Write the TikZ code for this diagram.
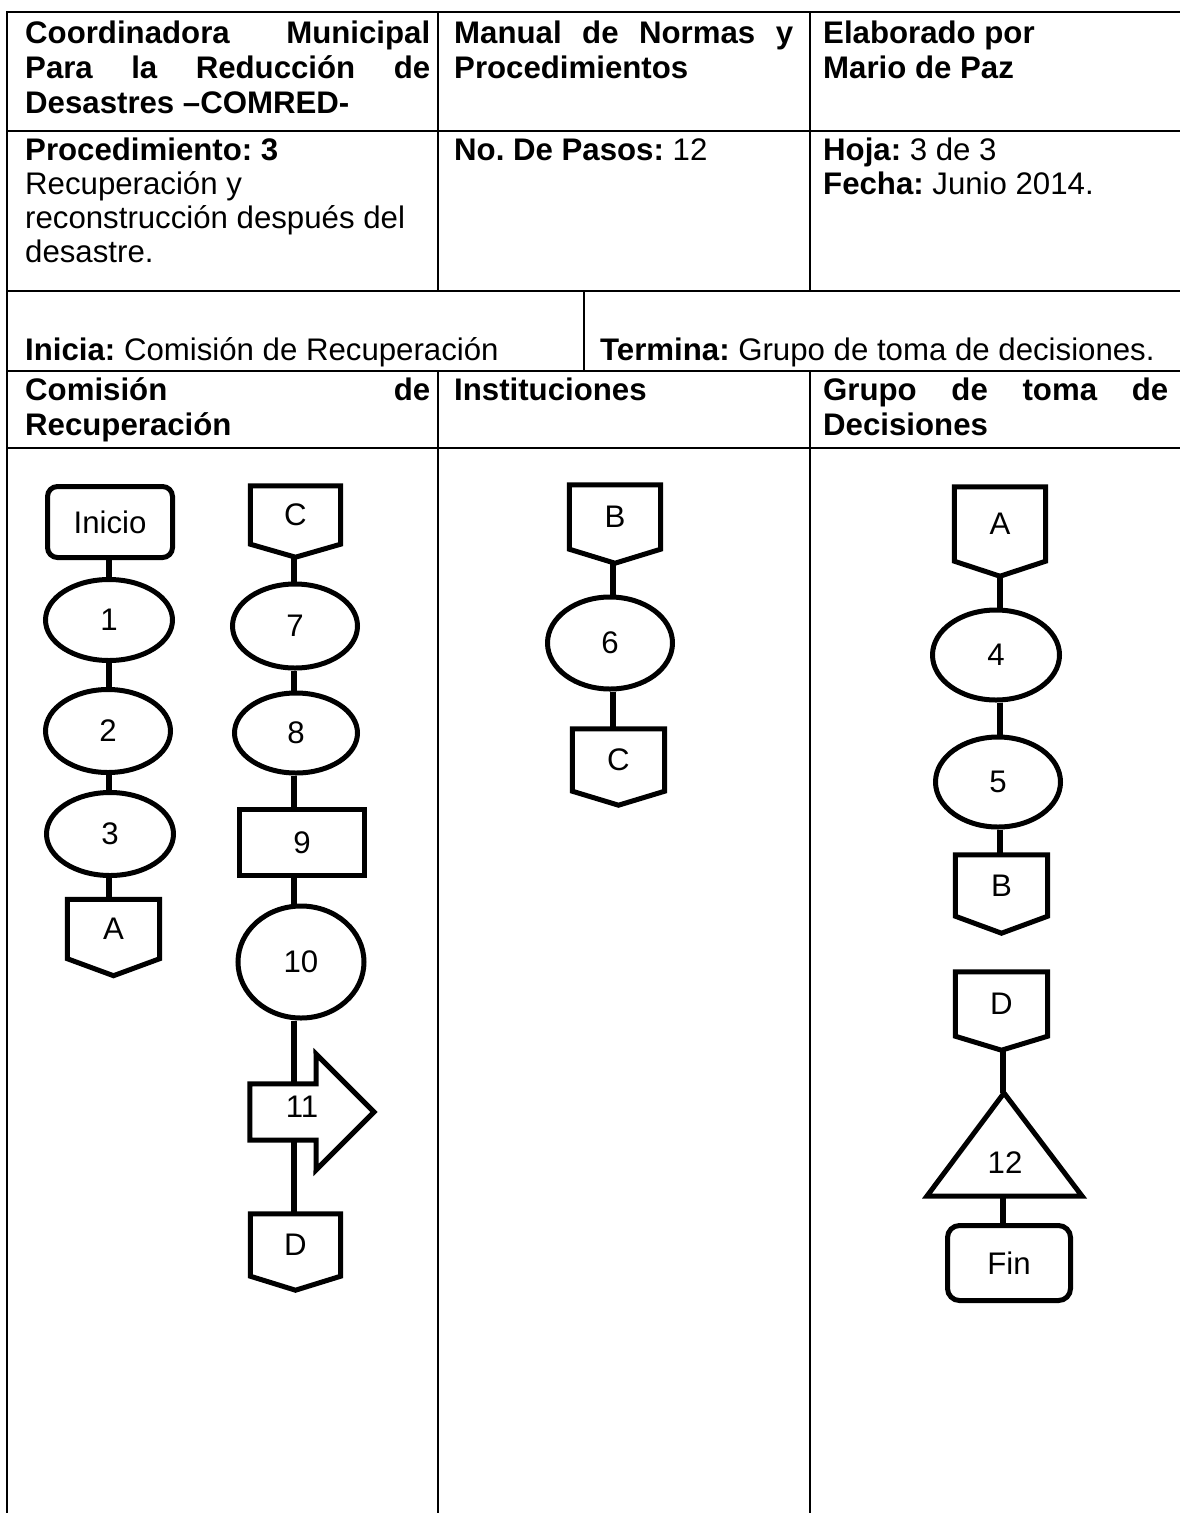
\documentclass[tikz,border=0pt]{standalone}
\usepackage{fontspec}
\setmainfont{Liberation Sans}
\usetikzlibrary{shapes.geometric,calc,backgrounds}
\frenchspacing
\begin{document}
\begin{tikzpicture}[x=1pt,y=-1pt,
  tbl/.style={line width=2.4pt, line cap=rect},
  fnt/.style={font=\fontsize{31.2}{35}\selectfont},
  ell/.style={draw, line width=5pt, ellipse, inner sep=0pt, fill=white, fnt},
  sbox/.style={draw, line width=5pt, rectangle, inner sep=0pt, fill=white, fnt},
  opg/.style={rectangle, inner sep=0pt, fnt},
  opgline/.style={line width=5pt, line join=miter},
  conn/.style={line width=5.5pt},
  txt/.style={anchor=base west, inner sep=0pt, fnt},
  lbl/.style={inner sep=0pt, fnt},
]
\useasboundingbox (0,0) rectangle (1179,1513);

% ---------- table ----------
\draw[tbl] (7,12) -- (1179,12);
\draw[tbl] (7,131) -- (1179,131);
\draw[tbl] (7,291) -- (1179,291);
\draw[tbl] (7,371) -- (1179,371);
\draw[tbl] (7,448) -- (1179,448);
\draw[tbl] (7,12) -- (7,1513);
\draw[tbl] (438,12) -- (438,291);
\draw[tbl] (438,371) -- (438,1513);
\draw[tbl] (810,12) -- (810,291);
\draw[tbl] (810,371) -- (810,1513);
\draw[tbl] (584,291) -- (584,371);

% ---------- header texts ----------
\node[txt] (h1a) at (25,43) {\bfseries\makebox[405pt][s]{Coordinadora Municipal}};
\node[txt] (h1b) at (25,78) {\bfseries\makebox[405pt][s]{Para la Reducción de}};
\node[txt] (h1c) at (25,113) {\bfseries Desastres –COMRED-};
\node[txt] (h2a) at (454,43) {\bfseries\makebox[339pt][s]{Manual de Normas y}};
\node[txt] (h2b) at (454,78) {\bfseries Procedimientos};
\node[txt] (h3a) at (823,43) {\bfseries Elaborado por};
\node[txt] (h3b) at (823,78) {\bfseries Mario de Paz};

\node[txt] (p1) at (25,160) {\bfseries Procedimiento: 3};
\node[txt] (p2) at (25,194) {Recuperación y};
\node[txt] (p3) at (25,228) {reconstrucción después del};
\node[txt] (p4) at (25,262) {desastre.};
\node[txt] (np) at (454,160) {\textbf{No. De Pasos:} 12};
\node[txt] (hj) at (823,160) {\textbf{Hoja:} 3 de 3};
\node[txt] (fc) at (823,194) {\textbf{Fecha:} Junio 2014.};

\node[txt] (ini0) at (25,360) {\textbf{Inicia:} Comisión de Recuperación};
\node[txt] (ter0) at (600,360) {\textbf{Termina:} Grupo de toma de decisiones.};

\node[txt] (c1a) at (25,400) {\bfseries\makebox[405pt][s]{Comisión de}};
\node[txt] (c1b) at (25,435) {\bfseries Recuperación};
\node[txt] (c2a) at (454,400) {\bfseries Instituciones};
\node[txt] (c3a) at (823,400) {\bfseries\makebox[345pt][s]{Grupo de toma de}};
\node[txt] (c3b) at (823,435) {\bfseries Decisiones};

% ---------- column 1 ----------
\node[sbox, rounded corners=10pt, minimum width=125pt, minimum height=71pt] (ini) at (110,522) {Inicio};
\node[ell, minimum width=127pt, minimum height=81pt] (E1) at (109,620) {1};
\node[ell, minimum width=125pt, minimum height=83pt] (E2) at (108,731) {2};
\node[ell, minimum width=127pt, minimum height=83pt] (E3) at (110,834) {3};
\node[opg, minimum width=92pt, minimum height=59pt] (A1) at (113.5,929) {A};
\coordinate (A1t) at ($(A1.south)+(0,17)$);
\draw[opgline] (A1.north west) -- (A1.north east) -- (A1.south east) -- (A1t) -- (A1.south west) -- cycle;

% ---------- column 2 ----------
\node[opg, minimum width=90pt, minimum height=58pt] (C1) at (295.5,515) {C};
\coordinate (C1t) at ($(C1.south)+(0,13)$);
\draw[opgline] (C1.north west) -- (C1.north east) -- (C1.south east) -- (C1t) -- (C1.south west) -- cycle;
\node[ell, minimum width=125pt, minimum height=84pt] (E7) at (295,626) {7};
\node[ell, minimum width=123pt, minimum height=80pt] (E8) at (296,733) {8};
\node[sbox, minimum width=125pt, minimum height=66pt] (R9) at (302,842.5) {9};
\node[ell, minimum width=126pt, minimum height=112pt] (E10) at (301,962) {10};
\node[opg, minimum width=66pt, minimum height=56pt] (n11) at (283,1112) {};
\draw[opgline] (n11.north west) -- (n11.north east) -- (316,1054) -- (374,1112) -- (316,1170) -- (n11.south east) -- (n11.south west) -- cycle;
\node[lbl] (t11) at (302,1107) {11};
\node[opg, minimum width=90pt, minimum height=62pt] (D1) at (295.5,1245) {D};
\coordinate (D1t) at ($(D1.south)+(0,14)$);
\draw[opgline] (D1.north west) -- (D1.north east) -- (D1.south east) -- (D1t) -- (D1.south west) -- cycle;

% ---------- column 3 ----------
\node[opg, minimum width=91pt, minimum height=64pt] (B2) at (615,517) {B};
\coordinate (B2t) at ($(B2.south)+(0,14)$);
\draw[opgline] (B2.north west) -- (B2.north east) -- (B2.south east) -- (B2t) -- (B2.south west) -- cycle;
\node[ell, minimum width=125pt, minimum height=92pt] (E6) at (610,643) {6};
\node[opg, minimum width=92pt, minimum height=62pt] (C2) at (618.5,760) {C};
\coordinate (C2t) at ($(C2.south)+(0,14)$);
\draw[opgline] (C2.north west) -- (C2.north east) -- (C2.south east) -- (C2t) -- (C2.south west) -- cycle;

% ---------- column 4 ----------
\node[opg, minimum width=91pt, minimum height=74pt] (A3) at (1000,524) {A};
\coordinate (A3t) at ($(A3.south)+(0,15)$);
\draw[opgline] (A3.north west) -- (A3.north east) -- (A3.south east) -- (A3t) -- (A3.south west) -- cycle;
\node[ell, minimum width=127pt, minimum height=90pt] (E4) at (996,655) {4};
\node[ell, minimum width=125pt, minimum height=90pt] (E5) at (998,782) {5};
\node[opg, minimum width=92pt, minimum height=61pt] (B3) at (1001.5,885.5) {B};
\coordinate (B3t) at ($(B3.south)+(0,17)$);
\draw[opgline] (B3.north west) -- (B3.north east) -- (B3.south east) -- (B3t) -- (B3.south west) -- cycle;
\node[opg, minimum width=92pt, minimum height=64pt] (D3) at (1001.5,1004) {D};
\coordinate (D3t) at ($(D3.south)+(0,14)$);
\draw[opgline] (D3.north west) -- (D3.north east) -- (D3.south east) -- (D3t) -- (D3.south west) -- cycle;
\coordinate (Tap) at (1004,1093);
\coordinate (TbL) at (927,1196);
\coordinate (TbR) at (1082,1196);
\coordinate (Tb) at (1003,1196);
\draw[opgline] (Tap) -- (TbR) -- (TbL) -- cycle;
\node[lbl] (n12) at (1005,1163) {12};
\node[sbox, rounded corners=12pt, minimum width=123pt, minimum height=75pt] (fin) at (1009,1263) {Fin};

% ---------- connectors ----------
\coordinate (k1) at (109,0);
\coordinate (k2) at (294,0);
\coordinate (k3) at (613,0);
\coordinate (k4) at (1000,0);
\coordinate (k5) at (1003,0);
\begin{scope}[on background layer]
\draw[conn] (k1 |- ini.south) -- (k1 |- E1.north);
\draw[conn] (k1 |- E1.south) -- (k1 |- E2.north);
\draw[conn] (k1 |- E2.south) -- (k1 |- E3.north);
\draw[conn] (k1 |- E3.south) -- (k1 |- A1.north);
\draw[conn] (k2 |- C1t) -- (k2 |- E7.north);
\draw[conn] (k2 |- E7.south) -- (k2 |- E8.north);
\draw[conn] (k2 |- E8.south) -- (k2 |- R9.north);
\draw[conn] (k2 |- R9.south) -- (k2 |- E10.north);
\draw[conn] (k2 |- E10.south) -- (k2 |- n11.north);
\draw[conn] (k2 |- n11.south) -- (k2 |- D1.north);
\draw[conn] (k3 |- B2t) -- (k3 |- E6.north);
\draw[conn] (k3 |- E6.south) -- (k3 |- C2.north);
\draw[conn] (k4 |- A3t) -- (k4 |- E4.north);
\draw[conn] (k4 |- E4.south) -- (k4 |- E5.north);
\draw[conn] (k4 |- E5.south) -- (k4 |- B3.north);
\draw[conn] (k5 |- D3t) -- (k5 |- Tap);
\draw[conn] (k5 |- Tb) -- (k5 |- fin.north);
\end{scope}
\end{tikzpicture}
\end{document}
